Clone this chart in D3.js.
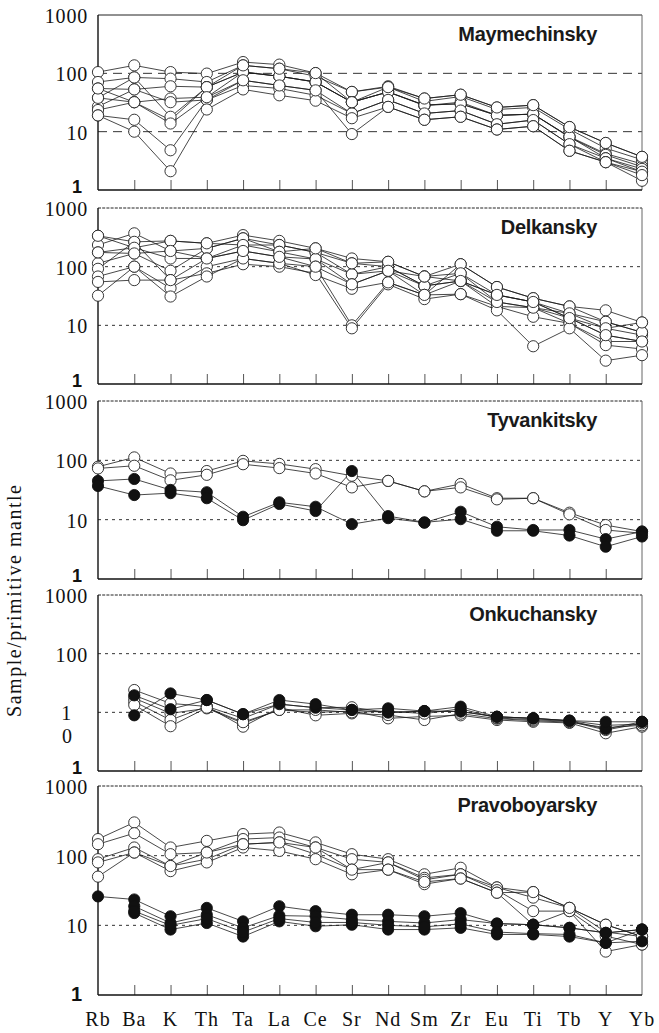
<!DOCTYPE html>
<html>
<head>
<meta charset="utf-8">
<script src="https://cdn.jsdelivr.net/npm/d3@7"></script>
<style>
  html, body { margin: 0; padding: 0; background: #fff; }
  svg { display: block; }
</style>
</head>
<body>
<svg id="chart" width="659" height="1033"></svg>
<script>
// ---------------- DATA ----------------
const categories = ["Rb","Ba","K","Th","Ta","La","Ce","Sr","Nd","Sm","Zr","Eu","Ti","Tb","Y","Yb"];
const panelNames = ["Maymechinsky","Delkansky","Tyvankitsky","Onkuchansky","Pravoboyarsky"];
const yTickValues = [1000, 100, 10];
const yTickLabels = ["1000", "100", "10"];
const onkuchanskyTickLabels = ["1000", "100", "1"];
const yMinLabel = "1";
const yAxisTitle = "Sample/primitive mantle";

// Maymechinsky (open symbols)
const maymechinskyOpen = [
  [105,137,105, 99,156,141,101, 48, 60, 37, 43, 26,28.5, 12,6.4,3.7],
  [ 71, 85, 81, 71,137,120, 89, 48, 58, 33, 40, 24, 26, 11,5.2,3.3],
  [ 55, 53, 60, 58,105, 89, 71, 32, 48,28.5,30, 19, 20,8.2,4.2,2.8],
  [ 38, 32, 37, 39,105, 89, 71, 32, 48, 28, 32, 19, 20,  8,  4,2.5],
  [ 27, 53, 32, 35, 76, 62, 51,20.5,35,20.5,23,13.4,15.8,6.1,3.5,2.06],
  [23.5,32,15.8,58,105, 89, 71, 32, 48,28.5,30, 19, 20,8.2,3.5,2.3],
  [ 19, 16,4.8, 35, 62, 55, 42,20.5,35,20.5,23,13.4,15.8,6.1,3.0,2.06],
  [ 19, 10,2.1, 24, 53, 42, 34, 17,26.6,16, 18,10.9,12.4,4.7,3.0,1.44],
  [ 38, 85, 18, 58,137,120,101, 32, 58, 37, 43, 26,28.5, 12,6.4,3.7],
  [ 55, 32,13.8,39, 76, 62, 51,9.1,26.6, 16, 18,10.9,12.4,4.7,3.0,1.8]
];
const maymechinskyFilled = [];

// Delkansky (open symbols)
const delkanskyOpen = [
  [336,265,275,250,345,275,205,138,121, 68,110, 45, 29, 21, 18,11.2],
  [234,370,185,205,304,234,175,114,100, 47, 77, 33, 25, 16,11.5,7.6],
  [175,210,138,138,234,234,175, 74, 85, 47, 57, 25, 20,13.3,8.9,6.8],
  [114,168, 85,205,304,179,135, 74,100, 47, 57, 33, 25,13.3,6.8,5.3],
  [ 92,265, 59,138,185,147,135, 50, 85, 33, 57, 21, 20,10.8,5.3,5.3],
  [ 68,100, 43,100,138,114,100, 10, 54, 33, 34, 21, 14,10.8,4.6,3.95],
  [ 55, 59, 59, 77,110,100, 77,8.9, 50, 28, 34, 18,4.4,8.9,2.5,3.1],
  [ 32,100, 31, 68,138,114, 72, 42, 54, 33,110, 45, 29, 21,11.5,7.6],
  [336,210,275,250,234,179,205,114,121, 68, 77, 25, 20, 16,8.9,11.2],
  [175,168,185,138,185,147,100, 50, 85, 68, 57, 33, 25,13.3,6.8,5.3]
];
const delkanskyFilled = [];

// Tyvankitsky
const tyvankitskyOpen = [
  [78,112,60,66,98,87,71,55,45,30,40,23,23,13.1,8.1,6.3],
  [73, 81,46,57,86,74,60,35,45,30,35,22,23,12.3,6.7,5.9]
];
const tyvankitskyFilled = [
  [45,48.5,31.7,29,11.2,19.6,16.5,8.4,10.6,8.9,13.6,7.6,6.7,6.7,4.7,6.3],
  [37,26,28,23,9.8,18.4,14,66,11.5,9,10.2,6.5,6.5,5.4,3.5,5.2]
];

// Onkuchansky (no Rb)
const onkuchanskyOpen = [
  [null,24,14.2,12.6,7.9,13.8,12,12.2,9.9,10.5,10.3,8.4,7.9,7.2,6.0,6.3],
  [null,17.4,9.6,11.7,6.5,11,10,10.5,7.9,8.5,8.9,7.4,6.9,6.6,4.4,5.7],
  [null,15.2,7.4,12.6,5.7,12,8.9,9.6,9,7.4,9.5,7.8,7.2,6.8,5.5,6.0],
  [null,13.3,5.8,12,6.8,11,11,10,10.5,9.5,11.5,8,7.5,7,5.0,6.5]
];
const onkuchanskyFilled = [
  [null,19.5,11.3,16.2,9.3,13.8,12,11,9.9,10.5,10.3,8.4,7.9,7.2,5.2,6.9],
  [null,8.9,21,16.2,9.3,16.2,13.8,11,11.7,10.5,12.5,8.4,7.9,7.2,6.9,6.9]
];

// Pravoboyarsky
const pravoboyarskyOpen = [
  [173,300,131,163,204,215,155,105,89,54,67,35,30,17.8,10.2,6.9],
  [146,210,105,111,173,182,131, 89,80,48,54,35,25,17.8,8,6.9],
  [ 89,131, 71, 89,146,155,105, 63,80,45,54,32,16,16,7,5.3],
  [ 80,111, 60, 80,131,117, 89, 54,63,39,47,29.4,10.2,16,4.2,5.3],
  [ 50,111, 71,111,146,155,131, 63,63,42,47,29.4,30,17.8,10.2,6.9]
];
const pravoboyarskyFilled = [
  [26,23.5,13.5,17.8,11.4,18.8,16,14.2,14.2,13.5,15,10.6,10.2,9.2,7.8,8.7],
  [null,18.8,10.8,14.2,9.2,13.8,13.5,12.1,11.4,10.8,12.1,10.6,10.2,9.2,7.8,8.7],
  [null,15,8.7,10.8,6.9,11.4,9.7,10.2,8.7,8.7,9.2,7.4,7.4,6.9,5.6,5.9],
  [null,16,10,12.5,8,12.5,11,11,10,9.5,10.5,8,7.6,7.4,5.6,8.7]
];

const panelOpen = [maymechinskyOpen, delkanskyOpen, tyvankitskyOpen, onkuchanskyOpen, pravoboyarskyOpen];
const panelFilled = [maymechinskyFilled, delkanskyFilled, tyvankitskyFilled, onkuchanskyFilled, pravoboyarskyFilled];

// ---------------- LAYOUT ----------------
const LEFT = 98, RIGHT = 642;
const panelTop = [15, 208, 401, 595, 786];
const panelBottom = [190, 384, 579, 771, 995];
const SERIF = "'Liberation Serif','Times New Roman',serif";
const SANS = "'Liberation Sans',Arial,Helvetica,sans-serif";

const svg = d3.select("#chart");
const x = d3.scalePoint().domain(categories).range([LEFT, RIGHT]);

panelNames.forEach((name, p) => {
  const top = panelTop[p], bottom = panelBottom[p];
  const y = d3.scaleLog().domain([1, 1000]).range([bottom, top]);
  const g = svg.append("g").attr("class", "panel");

  // dashed reference lines at 10 and 100
  g.selectAll("line.ref").data([10, 100]).enter().append("line")
    .attr("class", "ref")
    .attr("x1", LEFT).attr("x2", RIGHT)
    .attr("y1", d => y(d)).attr("y2", d => y(d))
    .attr("stroke", "#333").attr("stroke-width", 1)
    .attr("stroke-dasharray", p === 0 ? "9,6" : "3,4");

  // frame: top, right
  g.append("line").attr("x1", LEFT).attr("x2", RIGHT).attr("y1", top).attr("y2", top)
    .attr("stroke", "#222").attr("stroke-width", 1)
    .attr("stroke-dasharray", p === 0 ? null : "3,1.2");
  g.append("line").attr("x1", RIGHT).attr("x2", RIGHT).attr("y1", top).attr("y2", bottom)
    .attr("stroke", "#666").attr("stroke-width", 1);

  // bottom axis with inward ticks
  const xAxis = d3.axisBottom(x).tickSize(-10).tickFormat("")
    .tickValues(categories.slice(1, -1));
  const gx = g.append("g").attr("transform", `translate(0,${bottom})`).call(xAxis);
  gx.select(".domain").remove();
  gx.selectAll(".tick line").attr("stroke", "#555").attr("stroke-width", 1);
  g.append("line").attr("x1", LEFT).attr("x2", RIGHT).attr("y1", bottom).attr("y2", bottom)
    .attr("stroke", "#111").attr("stroke-width", 1.4);

  // left axis
  const labels = p === 3 ? onkuchanskyTickLabels : yTickLabels;
  const yAxis = d3.axisLeft(y).tickValues(yTickValues).tickSize(0).tickPadding(10)
    .tickFormat((d, i) => labels[i]);
  const gy = g.append("g").attr("transform", `translate(${LEFT},0)`).call(yAxis);
  gy.select(".domain").remove();
  gy.selectAll(".tick text")
    .attr("font-family", SERIF).attr("font-size", 20).attr("fill", "#111")
    .attr("letter-spacing", 0.8).attr("dy", "0.38em");
  if (p === 3) {
    gy.selectAll(".tick text").filter(d => d === 10).attr("x", -26);
    g.append("text").text("0")
      .attr("x", LEFT - 26).attr("y", y(10) + 24 + 7)
      .attr("text-anchor", "end")
      .attr("font-family", SERIF).attr("font-size", 20).attr("fill", "#111");
  }
  g.append("line").attr("x1", LEFT).attr("x2", LEFT).attr("y1", top).attr("y2", bottom)
    .attr("stroke", "#111").attr("stroke-width", 1.4);

  // bold "1" at bottom
  g.append("text").text(yMinLabel)
    .attr("x", 82).attr("y", bottom + (p === 4 ? 6 : 2.5))
    .attr("text-anchor", "end")
    .attr("font-family", SANS).attr("font-weight", "bold").attr("font-size", p === 4 ? 20 : 18)
    .attr("fill", "#111");

  // panel title
  g.append("text").text(name)
    .attr("x", 597).attr("y", top + 26)
    .attr("text-anchor", "end")
    .attr("font-family", SANS).attr("font-weight", "bold").attr("font-size", 20)
    .attr("letter-spacing", -0.3).attr("fill", "#1a1a1a");

  // series lines
  const line = d3.line()
    .defined(d => d.v != null)
    .x(d => x(d.c)).y(d => y(d.v));
  const toPts = arr => arr.map((v, i) => ({ c: categories[i], v }));
  const all = panelOpen[p].map(s => ({ s, filled: false }))
    .concat(panelFilled[p].map(s => ({ s, filled: true })));

  g.selectAll("path.series").data(all).enter().append("path")
    .attr("class", "series")
    .attr("d", d => line(toPts(d.s)))
    .attr("fill", "none").attr("stroke", "#1a1a1a").attr("stroke-width", 0.8);

  // markers: open first, filled on top
  all.forEach(d => {
    g.selectAll(null).data(toPts(d.s).filter(q => q.v != null)).enter().append("circle")
      .attr("cx", q => x(q.c)).attr("cy", q => y(q.v)).attr("r", 5.6)
      .attr("fill", d.filled ? "#111" : "#fff")
      .attr("stroke", d.filled ? "#111" : "#222").attr("stroke-width", 0.9);
  });
});

// x category labels
svg.append("g").selectAll("text").data(categories).enter().append("text")
  .text(d => d)
  .attr("x", d => x(d)).attr("y", 1026)
  .attr("text-anchor", "middle")
  .attr("font-family", SERIF).attr("font-size", 20).attr("letter-spacing", 1).attr("fill", "#111");

// y axis title
svg.append("text").text(yAxisTitle)
  .attr("transform", "translate(21,601) rotate(-90)")
  .attr("text-anchor", "middle")
  .attr("font-family", SERIF).attr("font-size", 20)
  .attr("textLength", 232).attr("lengthAdjust", "spacing")
  .attr("fill", "#111");
</script>
</body>
</html>
